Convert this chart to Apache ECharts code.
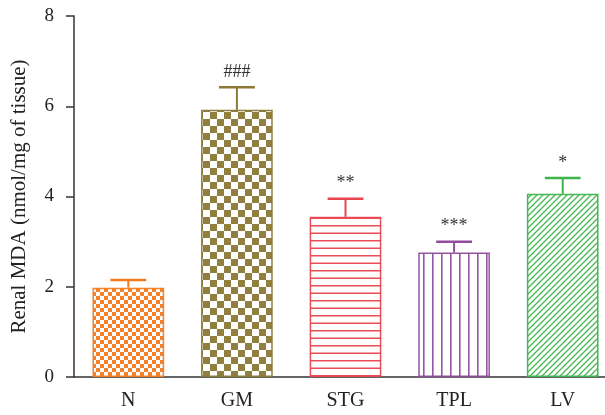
<!DOCTYPE html>
<html><head><meta charset="utf-8">
<script src="https://cdn.jsdelivr.net/npm/echarts@6/dist/echarts.min.js"></script>
<style>html,body{margin:0;padding:0;background:#fff;overflow:hidden;width:605px;height:415px}#c{width:617px;height:415px}</style>
</head><body><div id="c"></div>
<script>
const categories = ['N', 'GM', 'STG', 'TPL', 'LV'];
const means = [1.98, 5.92, 3.55, 2.76, 4.06];
const errors = [0.17, 0.50, 0.40, 0.24, 0.35];
const marks = ['', '###', '**', '***', '*'];
const yTicks = [0, 2, 4, 6, 8];

const colors = ['#f47c20', '#8b7935', '#e9454f', '#8f4c9e', '#3db54a'];

function tile(w, h, draw) {
  const c = document.createElement('canvas');
  c.width = w; c.height = h;
  const g = c.getContext('2d');
  g.fillStyle = '#fff'; g.fillRect(0, 0, w, h);
  draw(g);
  return c;
}
const patterns = [
  tile(8, 8, g => { g.fillStyle = colors[0]; g.fillRect(0,0,4,4); g.fillRect(4,4,4,4); }),
  tile(14, 14, g => { g.fillStyle = colors[1]; g.fillRect(0,0,7,7); g.fillRect(7,7,7,7); }),
  tile(4, 15, g => { g.fillStyle = colors[2]; g.fillRect(0,0,4,1.5); g.fillRect(0,7.5,4,1.5); }),
  tile(9, 4, g => { g.fillStyle = colors[3]; g.fillRect(0,0,1.6,4); }),
  tile(6, 6, g => { g.strokeStyle = colors[4]; g.lineWidth = 1.3;
    g.beginPath(); g.moveTo(-1,7); g.lineTo(7,-1); g.moveTo(-1,1); g.lineTo(1,-1); g.moveTo(5,7); g.lineTo(7,5); g.stroke(); })
];

const chart = echarts.init(document.getElementById('c'));
const font = 'Liberation Serif';
chart.setOption({
  animation: false,
  grid: { left: 74, right: 0, top: 16, bottom: 38 },
  xAxis: {
    type: 'category', data: categories,
    axisLine: { lineStyle: { color: '#333', width: 1.5 } },
    axisTick: { alignWithLabel: true, length: 9, lineStyle: { color: '#333', width: 1.5 } },
    axisLabel: { color: '#222', fontFamily: font, fontSize: 20, margin: 14 }
  },
  yAxis: {
    type: 'value', min: yTicks[0], max: yTicks[yTicks.length-1], interval: 2,
    name: 'Renal MDA (nmol/mg of tissue)', nameLocation: 'middle', nameGap: 44,
    nameTextStyle: { color: '#222', fontFamily: font, fontSize: 21 },
    axisLine: { show: true, lineStyle: { color: '#333', width: 1.5 } },
    axisTick: { show: true, length: 8, lineStyle: { color: '#333', width: 1.5 } },
    axisLabel: { color: '#222', fontFamily: font, fontSize: 19, margin: 20 },
    splitLine: { show: false }
  },
  series: [
    {
      type: 'bar', barWidth: '66%',
      data: means.map((v, i) => ({
        value: v,
        itemStyle: { color: { image: patterns[i], repeat: 'repeat' }, borderColor: colors[i], borderWidth: 1.5, opacity: 0.95 }
      })),
      z: 2
    },
    {
      type: 'custom',
      data: means.map((v, i) => [i, v, v + errors[i]]),
      renderItem: function (params, api) {
        const i = api.value(0);
        const base = api.coord([i, api.value(1)]);
        const top = api.coord([i, api.value(2)]);
        const half = api.size([1, 0])[0] * 0.165;
        const col = colors[i];
        const children = [
          { type: 'line', shape: { x1: base[0], y1: base[1], x2: top[0], y2: top[1] }, style: { stroke: col, lineWidth: 2 } },
          { type: 'line', shape: { x1: top[0] - half, y1: top[1], x2: top[0] + half, y2: top[1] }, style: { stroke: col, lineWidth: 2.5 } }
        ];
        if (marks[i]) {
          children.push({ type: 'text', x: top[0], y: top[1] - 15, style: { text: marks[i], fill: '#333', font: '18px "Liberation Serif"', align: 'center', verticalAlign: 'middle' } });
        }
        return { type: 'group', children: children };
      },
      z: 3
    }
  ]
});
</script></body></html>
